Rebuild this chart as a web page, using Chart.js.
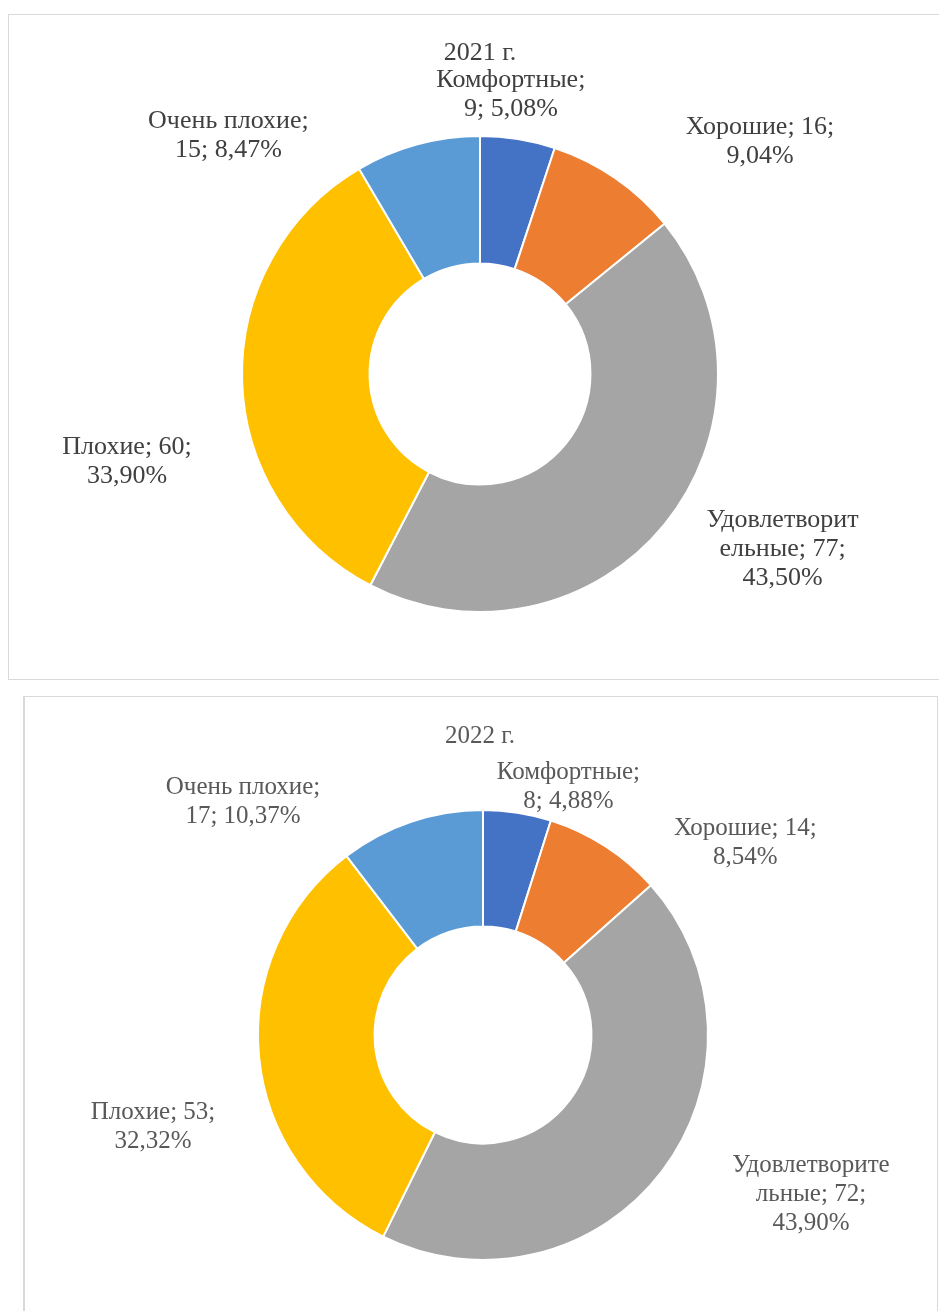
<!DOCTYPE html>
<html>
<head>
<meta charset="utf-8">
<script src="https://cdn.jsdelivr.net/npm/chart.js@4/dist/chart.umd.min.js"></script>
<style>
  body { margin: 0; background: #fff; width: 939px; height: 1311px; overflow: hidden; position: relative; }
  .box { position: absolute; border: 1px solid #d9d9d9; box-sizing: border-box; }
  #box1 { left: 8px; top: 14px; width: 940px; height: 666px; }
  #box2 { left: 23px; top: 696px; width: 915px; height: 640px; border-left-width: 2px; }
  .wrap { position: absolute; left: 0; width: 939px; }
  #wrap1 { top: 0; height: 690px; }
  #wrap2 { top: 690px; height: 621px; }
</style>
</head>
<body>
<div class="box" id="box1"></div>
<div class="box" id="box2"></div>
<div class="wrap" id="wrap1"><canvas id="chart2021"></canvas></div>
<div class="wrap" id="wrap2"><canvas id="chart2022"></canvas></div>
<script>
const categories = ["Комфортные", "Хорошие", "Удовлетворительные", "Плохие", "Очень плохие"];
const values2021 = [9, 16, 77, 60, 15];
const values2022 = [8, 14, 72, 53, 17];
const titles = ["2021 г.", "2022 г."];
const sliceColors = ["#4472C4", "#ED7D31", "#A5A5A5", "#FFC000", "#5B9BD5"];

// break text like Excel does: by words, and by letters when a word is too long
function wrapText(ctx, text, maxWidth) {
  const lines = [];
  let cur = "";
  text.split(" ").forEach((word) => {
    const candidate = cur ? cur + " " + word : word;
    if (ctx.measureText(candidate).width <= maxWidth) {
      cur = candidate;
      return;
    }
    if (cur) lines.push(cur);
    while (ctx.measureText(word).width > maxWidth) {
      let n = word.length - 1;
      while (n > 1 && ctx.measureText(word.slice(0, n)).width > maxWidth) n--;
      lines.push(word.slice(0, n));
      word = word.slice(n);
    }
    cur = word;
  });
  if (cur) lines.push(cur);
  return lines;
}

const sliceLabels = {
  id: "sliceLabels",
  afterDraw(chart, args, opts) {
    const ctx = chart.ctx;
    const data = chart.data.datasets[0].data;
    const total = data.reduce((a, b) => a + b, 0);
    ctx.save();
    ctx.font = opts.font;
    ctx.fillStyle = opts.color;
    ctx.textAlign = "center";
    ctx.textBaseline = "alphabetic";
    chart.getDatasetMeta(0).data.forEach((arc, i) => {
      const p = arc.getProps(["x", "y", "startAngle", "endAngle", "outerRadius"], true);
      const mid = (p.startAngle + p.endAngle) / 2;
      const x = p.x + Math.cos(mid) * p.outerRadius + opts.offsets[i][0];
      const y = p.y + Math.sin(mid) * p.outerRadius + opts.offsets[i][1];
      const pct = ((data[i] / total) * 100).toFixed(2).replace(".", ",");
      const text = chart.data.labels[i] + "; " + data[i] + "; " + pct + "%";
      wrapText(ctx, text, opts.maxWidth).forEach((line, k) => {
        ctx.fillText(line, x, y + k * opts.lineHeight);
      });
    });
    ctx.fillText(opts.title, opts.titlePos[0], opts.titlePos[1]);
    ctx.restore();
  },
};

function drawDoughnut(canvasId, values, setup) {
  return new Chart(document.getElementById(canvasId), {
    type: "doughnut",
    data: {
      labels: categories,
      datasets: [
        {
          data: values,
          backgroundColor: sliceColors,
          borderColor: "#ffffff",
          borderWidth: 2,
        },
      ],
    },
    options: {
      responsive: true,
      maintainAspectRatio: false,
      animation: false,
      devicePixelRatio: 1,
      radius: setup.radius,
      cutout: setup.cutout,
      layout: { padding: setup.padding },
      plugins: {
        legend: { display: false },
        tooltip: { enabled: false },
        sliceLabels: {
          font: setup.font,
          color: setup.color,
          lineHeight: setup.lineHeight,
          maxWidth: setup.maxWidth,
          offsets: setup.offsets,
          title: setup.title,
          titlePos: setup.titlePos,
        },
      },
    },
    plugins: [sliceLabels],
  });
}

drawDoughnut("chart2021", values2021, {
  title: titles[0],
  titlePos: [480, 60],
  radius: 238,
  cutout: 110,
  padding: { left: 242, right: 221, top: 136, bottom: 78 },
  font: "26px 'Liberation Serif'",
  color: "#404040",
  lineHeight: 29,
  maxWidth: 161,
  offsets: [[-7, -52], [145, -44], [118, 3], [-115, 74], [-189, -16]],
});

drawDoughnut("chart2022", values2022, {
  title: titles[1],
  titlePos: [480, 53],
  radius: 225,
  cutout: 108,
  padding: { left: 258, right: 231, top: 120, bottom: 51 },
  font: "25px 'Liberation Serif'",
  color: "#595959",
  lineHeight: 29,
  maxWidth: 168,
  offsets: [[51, -34], [140, -11], [149, 1], [-106, 62], [-168, -28]],
});
</script>
</body>
</html>
